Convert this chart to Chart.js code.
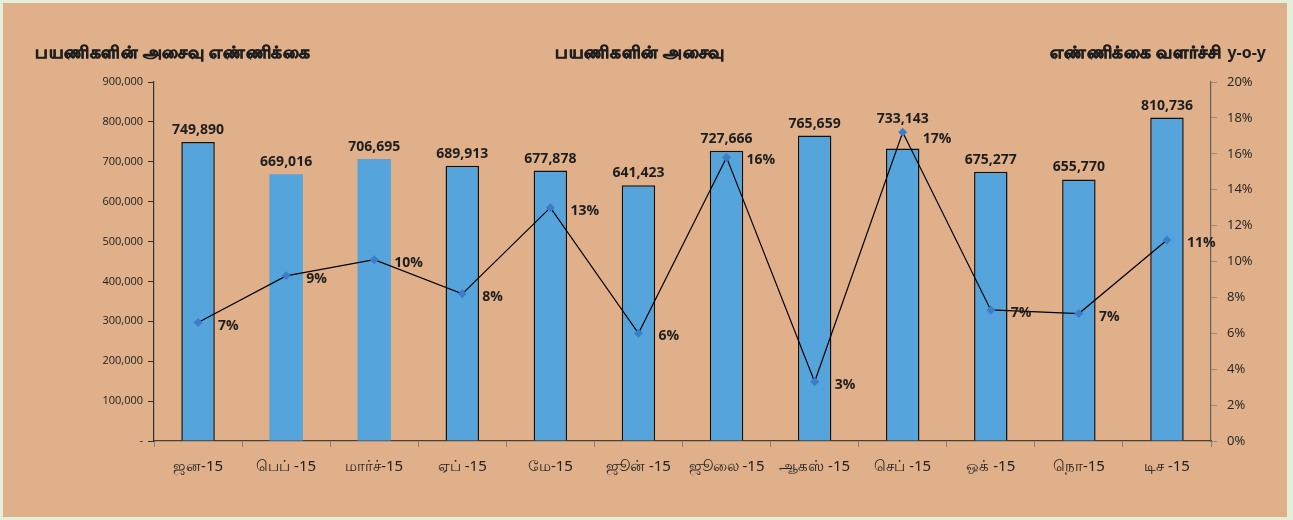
<!DOCTYPE html>
<html>
<head>
<meta charset="utf-8">
<script src="https://cdn.jsdelivr.net/npm/chart.js@4.4.1/dist/chart.umd.min.js"></script>
<style>
    body { margin: 0; background: #e4efd9; }
    #box { position: absolute; left: 3px; top: 3px; width: 1284px; height: 514px; background: #dfb08a; }
</style>
</head>
<body>
<div id="box"><canvas id="chart" width="1284" height="514"></canvas></div>
<script>
// months (Tamil short names)
var months = ["ஜன-15", "பெப் -15", "மார்ச்-15", "ஏப் -15", "மே-15", "ஜூன் -15",
    "ஜூலை -15", "ஆகஸ் -15", "செப் -15", "ஒக் -15", "நொ-15", "டிச -15"];

// passenger movements
var passengers = [749890, 669016, 706695, 689913, 677878, 641423,
    727666, 765659, 733143, 675277, 655770, 810736];

// y-o-y growth, percent
var growth = [6.6, 9.2, 10.1, 8.2, 13.0, 6.0, 15.8, 3.3, 17.2, 7.3, 7.1, 11.2];

var leftTitle = "பயணிகளின் அசைவு எண்ணிக்கை";
var mainTitle = "பயணிகளின் அசைவு";
var rightTitle = "எண்ணிக்கை வளர்ச்சி";
var rightTitleTail = "y-o-y";

var numFont = "'Open Sans', 'Noto Sans', sans-serif";
var tamilFont = "'Noto Sans', 'Open Sans', sans-serif";

// bars for Feb and Mar have no outline in the original
var barBorders = [1.5, 0, 0, 1.5, 1.5, 1.5, 1.5, 1.5, 1.5, 1.5, 1.5, 1.5];

var labelPlugin = {
    id: 'labels',
    afterDatasetsDraw: function(chart) {
        var ctx = chart.ctx;
        var barMeta = chart.getDatasetMeta(1);
        var lineMeta = chart.getDatasetMeta(0);
        ctx.save();
        ctx.fillStyle = '#1e1e1e';
        ctx.font = "bold 14px " + numFont;

        barMeta.data.forEach(function(el, i) {
            var pt = lineMeta.data[i];
            // keep the value above the line marker when they meet
            var by = Math.min(el.y - 8, pt.y - 9);
            ctx.textAlign = 'center';
            ctx.textBaseline = 'alphabetic';
            ctx.fillText(passengers[i].toLocaleString('en-US'), el.x, by);

            var ly = Math.max(pt.y + 3, by + 16);
            ctx.textAlign = 'left';
            ctx.textBaseline = 'middle';
            ctx.fillText(Math.round(growth[i]) + '%', pt.x + 20, ly);
        });
        ctx.restore();
    },
    afterDraw: function(chart) {
        var ctx = chart.ctx;
        ctx.save();
        ctx.fillStyle = '#1e1e1e';
        ctx.strokeStyle = '#1e1e1e';
        ctx.lineWidth = 0.8;
        ctx.textBaseline = 'middle';

        // tamil face has no bold, so thicken with a stroke
        function boldText(t, x, y) {
            ctx.fillText(t, x, y);
            ctx.strokeText(t, x, y);
        }

        ctx.font = "bold 17px " + tamilFont;
        ctx.letterSpacing = '0.6px';
        ctx.textAlign = 'left';
        boldText(leftTitle, 32, 50);
        ctx.textAlign = 'center';
        boldText(mainTitle, 637, 50);

        ctx.letterSpacing = '0px';
        ctx.font = "bold 16px " + tamilFont;
        ctx.textAlign = 'right';
        ctx.fillText(rightTitleTail, 1263, 50);
        var tailW = ctx.measureText(rightTitleTail).width;
        ctx.font = "bold 17px " + tamilFont;
        ctx.letterSpacing = '0.6px';
        boldText(rightTitle, 1263 - tailW - 6, 50);
        ctx.restore();
    }
};

var ctx = document.getElementById('chart').getContext('2d');
var chart = new Chart(ctx, {
    data: {
        labels: months,
        datasets: [{
            type: 'line',
            label: 'growth',
            data: growth,
            yAxisID: 'y1',
            borderColor: '#000000',
            borderWidth: 1.2,
            pointStyle: 'rectRot',
            pointRadius: 4.5,
            pointBackgroundColor: '#3d7cc9',
            pointBorderColor: '#3d7cc9',
            pointBorderWidth: 0,
            tension: 0,
            order: 0
        }, {
            type: 'bar',
            label: 'passengers',
            data: passengers,
            yAxisID: 'y',
            backgroundColor: '#55a4db',
            borderColor: '#111111',
            borderWidth: barBorders,
            borderSkipped: 'bottom',
            categoryPercentage: 1,
            barPercentage: 0.38,
            order: 1
        }]
    },
    options: {
        responsive: false,
        animation: false,
        layout: { padding: { top: 79, left: 0, right: 0, bottom: 0 } },
        plugins: {
            legend: { display: false },
            tooltip: { enabled: false }
        },
        scales: {
            x: {
                offset: true,
                grid: { offset: true, drawOnChartArea: false, tickLength: 6, color: '#8a8078' },
                border: { color: '#4a4038', width: 1.2 },
                ticks: {
                    padding: 11,
                    color: '#222',
                    font: { family: tamilFont, size: 15 }
                },
                afterFit: function(s) { s.height = 76; }
            },
            y: {
                position: 'left',
                min: 0,
                max: 900000,
                grid: { drawOnChartArea: false, tickLength: 6, color: '#333' },
                border: { color: '#333', width: 1.2 },
                ticks: {
                    stepSize: 100000,
                    padding: 5,
                    color: '#222',
                    font: { family: numFont, size: 11 },
                    callback: function(v) { return v === 0 ? '-' : v.toLocaleString('en-US'); }
                },
                afterFit: function(s) { s.width = 151; }
            },
            y1: {
                position: 'right',
                min: 0,
                max: 20,
                grid: { drawOnChartArea: false, tickLength: 6, color: '#9a8a7a' },
                border: { color: '#6b5e50', width: 1.2 },
                ticks: {
                    stepSize: 2,
                    padding: 10,
                    color: '#222',
                    font: { family: numFont, size: 13 },
                    callback: function(v) { return v + '%'; }
                },
                afterFit: function(s) { s.width = 76; }
            }
        }
    },
    plugins: [labelPlugin]
});
</script>
</body>
</html>
